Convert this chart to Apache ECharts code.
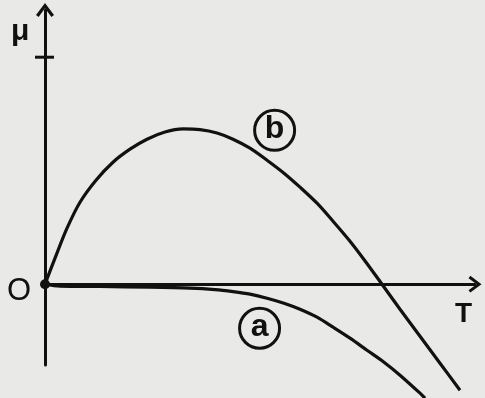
<!DOCTYPE html>
<html>
<head>
<meta charset="utf-8">
<style>
  html, body { margin: 0; padding: 0; background: #e9e9e7; }
  #chart { width: 485px; height: 398px; }
</style>
<script src="https://cdn.jsdelivr.net/npm/echarts@6/dist/echarts.min.js"></script>
</head>
<body>
<div id="chart"></div>
<script>
// Curve (b): rises to a maximum, then falls through zero
const curveB_T  = [0, 0.233, 0.512, 0.814, 1.186, 1.581, 1.977, 2.372, 2.791, 3.209, 3.605, 4.000, 4.372, 4.767, 5.163, 5.558, 5.930, 6.326, 6.698, 7.093, 7.465, 7.837, 8.256, 8.721, 9.186, 9.651];
const curveB_Mu = [0, 0.573, 1.233, 1.806, 2.291, 2.687, 2.974, 3.194, 3.352, 3.420, 3.405, 3.330, 3.194, 2.996, 2.731, 2.445, 2.137, 1.784, 1.388, 0.947, 0.485, 0.000, -0.551, -1.145, -1.740, -2.335];

// Curve (a): hugs the T axis, then bends downward
const curveA_T  = [0, 0.349, 1.279, 2.442, 3.372, 3.953, 4.372, 4.767, 5.163, 5.558, 5.930, 6.326, 6.698, 7.093, 7.488, 7.884, 8.256, 8.721, 8.837];
const curveA_Mu = [0, -0.044, -0.051, -0.066, -0.088, -0.121, -0.165, -0.220, -0.308, -0.419, -0.551, -0.727, -0.947, -1.189, -1.454, -1.718, -2.004, -2.401, -2.511];

// Curve tags and where they sit
const tagNames = ['b', 'a'];
const tagT     = [5.34, 4.99];
const tagMu    = [3.39, -0.97];

// Marked value on the μ axis
const muTicks = [5];

const ink = '#111111';
const font = '"Liberation Sans", Arial, sans-serif';
const zip = (xs, ys) => xs.map((x, i) => [x, ys[i]]);

// Open (chevron) arrow head, pointing up before axis rotation
const chevron = 'path://M0,12 L9,0 L18,12 L15.4,14 L9,5.2 L2.6,14 Z';

const chart = echarts.init(document.getElementById('chart'), null, { renderer: 'canvas' });

chart.setOption({
  backgroundColor: '#e9e9e7',
  animation: false,
  grid: { left: 45, right: 10, top: 10, bottom: 33 },
  xAxis: {
    type: 'value',
    min: 0,
    max: 10,
    axisLine: {
      show: true,
      onZero: true,
      symbol: ['none', chevron],
      symbolSize: [18, 13],
      lineStyle: { color: ink, width: 3 }
    },
    axisTick: { show: false },
    axisLabel: { show: false },
    splitLine: { show: false }
  },
  yAxis: {
    type: 'value',
    min: -1.78,
    max: 6.04,
    axisLine: {
      show: true,
      onZero: false,
      symbol: ['none', chevron],
      symbolSize: [18, 14],
      lineStyle: { color: ink, width: 3 }
    },
    axisTick: { show: false },
    axisLabel: { show: false },
    splitLine: { show: false }
  },
  series: [
    {
      name: 'a',
      type: 'line',
      data: zip(curveA_T, curveA_Mu),
      smooth: 0.3,
      symbol: 'none',
      clip: false,
      lineStyle: { color: ink, width: 3.2 }
    },
    {
      name: 'b',
      type: 'line',
      data: zip(curveB_T, curveB_Mu),
      smooth: 0.3,
      symbol: 'none',
      clip: false,
      lineStyle: { color: ink, width: 3.2 }
    },
    {
      type: 'scatter',
      data: [[0, 0]],
      symbolSize: 10,
      itemStyle: { color: ink, opacity: 1 }
    },
    {
      type: 'scatter',
      data: tagNames.map((n, i) => ({ name: n, value: [tagT[i], tagMu[i]] })),
      symbol: 'circle',
      symbolSize: 40,
      itemStyle: { color: 'rgba(0,0,0,0)', borderColor: ink, borderWidth: 3, opacity: 1 },
      label: {
        show: true,
        position: 'inside',
        formatter: p => p.name,
        color: ink,
        fontFamily: font,
        fontWeight: 'bold',
        fontSize: 32,
        offset: [0, -1]
      }
    }
  ]
});

// Short cross ticks on the μ axis, placed through the axis scale
const tickGraphics = muTicks.map(v => {
  const p = chart.convertToPixel({ gridIndex: 0 }, [0, v]);
  return {
    type: 'line',
    shape: { x1: p[0] - 10, y1: p[1], x2: p[0] + 9, y2: p[1] },
    style: { stroke: ink, lineWidth: 3 }
  };
});

chart.setOption({
  graphic: [
    ...tickGraphics,
    { type: 'text', left: 11, top: 17, style: { text: 'μ', font: 'bold 30px ' + font, fill: ink } },
    { type: 'text', left: 7, top: 276, style: { text: 'O', font: '31px ' + font, fill: ink } },
    { type: 'text', left: 455, top: 300, style: { text: 'T', font: 'bold 28px ' + font, fill: ink } }
  ]
});
</script>
</body>
</html>
